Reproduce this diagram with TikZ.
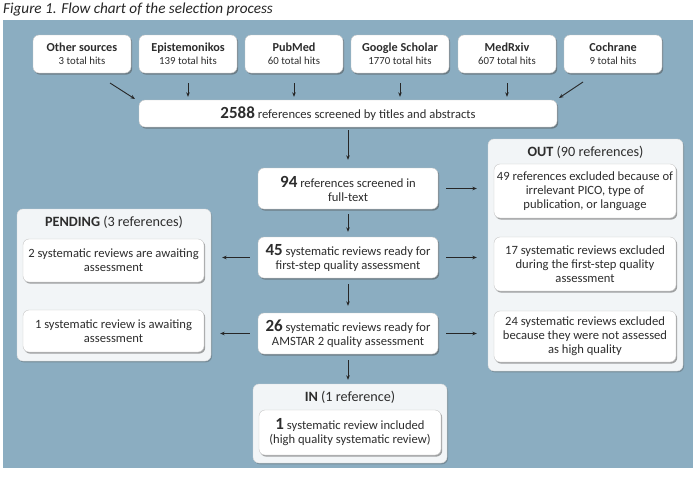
\documentclass[tikz,border=0pt]{standalone}
\usepackage{fontspec}
\setmainfont{Carlito}
\usetikzlibrary{shadows,arrows.meta}
\definecolor{bgblue}{RGB}{139,173,193}
\definecolor{panelc}{RGB}{242,245,247}
\definecolor{txt}{RGB}{45,45,45}
\newcommand{\bignum}[1]{{\fontsize{17}{14}\selectfont\textbf{#1}}}
\newcommand{\hits}[1]{{\fontsize{10.8}{12}\selectfont #1}}
\begin{document}
\begin{tikzpicture}[x=1pt,y=-1pt,
  box/.style={draw=black!22, line width=0.4pt, fill=white, rounded corners=6pt,
    drop shadow={shadow xshift=1.2pt, shadow yshift=-1.6pt, opacity=0.5, fill=black!70},
    text=txt, align=center, inner sep=0pt, font=\fontsize{12.6}{14}\selectfont},
  panelbox/.style={draw=black!15, line width=0.4pt, fill=panelc, rounded corners=6pt,
    drop shadow={shadow xshift=1pt, shadow yshift=-1.3pt, opacity=0.35, fill=black!70},
    inner sep=0pt},
  ptitle/.style={text=txt, font=\fontsize{14.2}{16}\selectfont, inner sep=0pt},
  arr/.style={-{Stealth[length=4.5pt,width=3.6pt]}, line width=0.9pt, black!85},
  src/.style={box, minimum width=98pt, minimum height=38pt, font=\fontsize{12.2}{14}\selectfont},
  mid/.style={box, minimum width=180pt, minimum height=41pt},
  side/.style={box, minimum width=182pt}
]
\useasboundingbox (0,0) rectangle (700,477);
\fill[white] (0,0) rectangle (700,477);
\node[anchor=west, inner sep=0pt, font=\fontsize{15.2}{17}\selectfont\itshape, text=black!85] (title) at (3,10) {Figure 1. Flow chart of the selection process};
\fill[bgblue] (3,20) rectangle (693,468);

% sources
\node[src] (other) at (82,54) {\textbf{Other sources}\\[-1pt]\hits{3 total hits}};
\node[src] (epi) at (188,54) {\textbf{Epistemonikos}\\[-1pt]\hits{139 total hits}};
\node[src] (pub) at (294,54) {\textbf{PubMed}\\[-1pt]\hits{60 total hits}};
\node[src] (gs) at (400,54) {\textbf{Google Scholar}\\[-1pt]\hits{1770 total hits}};
\node[src] (med) at (507,54) {\textbf{MedRxiv}\\[-1pt]\hits{607 total hits}};
\node[src] (coch) at (613,54) {\textbf{Cochrane}\\[-1pt]\hits{9 total hits}};

% main column
\node[box, minimum width=418pt, minimum height=27pt] (all) at (348,113.5) {\bignum{2588} references screened by titles and abstracts};
\node[mid] (n94) at (348,188.5) {\bignum{94} references screened in\\full-text};
\node[mid] (n45) at (348,257.5) {\bignum{45} systematic reviews ready for\\first-step quality assessment};
\node[mid] (n26) at (348,333.5) {\bignum{26} systematic reviews ready for\\AMSTAR 2 quality assessment};

% IN panel
\node[panelbox, minimum width=194pt, minimum height=79pt] (inp) at (350,423.5) {};
\node[ptitle] (intitle) at (350,397) {\textbf{IN} (1 reference)};
\node[side, minimum height=45pt] (inc) at (350,432.5) {\bignum{1} systematic review included\\(high quality systematic review)};

% PENDING panel
\node[panelbox, minimum width=194pt, minimum height=152pt] (pend) at (114,285) {};
\node[ptitle] (pendtitle) at (114,222) {\textbf{PENDING} (3 references)};
\node[side, minimum width=181pt, minimum height=43pt] (p1) at (113.5,260.5) {2 systematic reviews are awaiting\\assessment};
\node[side, minimum width=181pt, minimum height=42pt] (p2) at (113.5,331) {1 systematic review is awaiting\\assessment};

% OUT panel
\node[panelbox, minimum width=195pt, minimum height=232pt] (out) at (585.5,255) {};
\node[ptitle] (outtitle) at (585.5,152) {\textbf{OUT} (90 references)};
\node[side, minimum height=54pt] (o1) at (585,191) {49 references excluded because of\\irrelevant PICO, type of\\publication, or language};
\node[side, minimum height=54pt] (o2) at (585,264) {17 systematic reviews excluded\\during the first-step quality\\assessment};
\node[side, minimum height=51pt] (o3) at (585,336.5) {24 systematic reviews excluded\\because they were not assessed\\as high quality};

% arrows from sources
\coordinate (otherS) at (110,83);
\coordinate (otherE) at (135,99);
\coordinate (cochS) at (583,82);
\coordinate (cochE) at (559,98);
\draw[arr] (otherS) -- (otherE);
\draw[arr] (cochS) -- (cochE);
\foreach \s in {epi,pub,gs,med}{
  \draw[arr, shorten <=10pt, shorten >=3pt] (\s.south) -- (\s.south |- all.north);
}
% main column arrows
\draw[arr, shorten <=3pt, shorten >=8pt] (all.south -| n94.north) -- (n94.north);
\draw[arr, shorten <=5pt, shorten >=5pt] (n94.south) -- (n45.north);
\draw[arr, shorten <=6pt, shorten >=7pt] (n45.south) -- (n26.north);
\draw[arr, shorten <=6pt, shorten >=4pt] (n26.south) -- (n26.south |- inp.north);
% to OUT
\draw[arr, shorten <=8pt, shorten >=11pt] (n94.east) -- (n94.east -| out.west);
\draw[arr, shorten <=8pt, shorten >=11pt] (n45.east) -- (n45.east -| out.west);
\draw[arr, shorten <=8pt, shorten >=11pt] (n26.east) -- (n26.east -| out.west);
% to PENDING
\draw[arr, shorten <=8pt, shorten >=11pt] (n45.west) -- (n45.west -| pend.east);
\draw[arr, shorten <=8pt, shorten >=9pt] (n26.west) -- (n26.west -| pend.east);
\end{tikzpicture}
\end{document}
